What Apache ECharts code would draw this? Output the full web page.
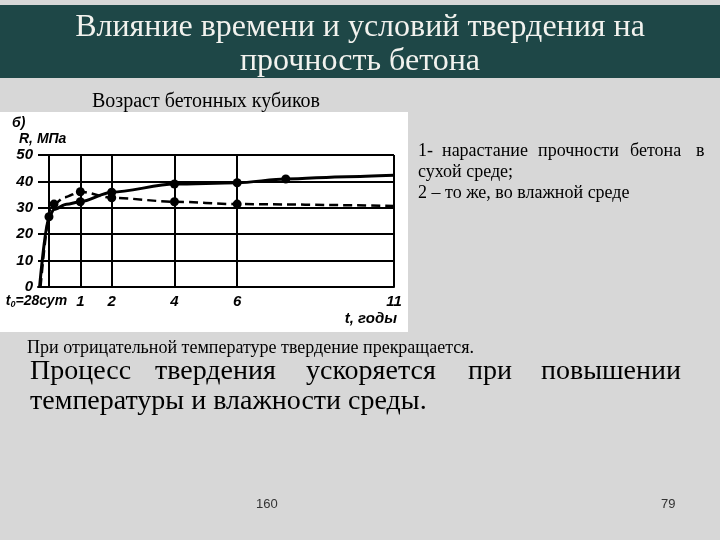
<!DOCTYPE html>
<html>
<head>
<meta charset="utf-8">
<script src="https://cdn.jsdelivr.net/npm/echarts@6/dist/echarts.min.js"></script>
<style>
html,body{margin:0;padding:0;background:#d7d7d7;}
#chart{width:720px;height:540px;}
</style>
</head>
<body>
<div id="chart"></div>
<script>
// ---- data ----
const tickYears = [0, 1, 2, 4, 6, 11];
const tickLabels = ['t0=28сут', '1', '2', '4', '6', '11'];

// curve 1: dry environment (solid)
const dryT = [-0.3, 0, 0.16, 0.56, 1, 2, 4, 6, 7.55, 9.5, 11];
const dryR = [0, 26.6, 29.4, 31.3, 32.3, 35.9, 39.0, 39.5, 40.9, 41.8, 42.3];
const dryMarked = [0, 1, 0, 0, 1, 1, 1, 1, 1, 0, 0];

// curve 2: humid environment (dashed)
const wetT = [-0.27, 0.05, 0.16, 0.5, 1, 2, 4, 6, 11];
const wetR = [0, 29.5, 31.4, 34.0, 36.1, 33.8, 32.3, 31.4, 30.7];
const wetMarked = [0, 0, 1, 0, 1, 1, 1, 1, 0];

const titleLines = ['Влияние времени и условий твердения на', 'прочность бетона'];
const subTitle = 'Возраст бетонных кубиков';
const legendLine1 = ['1-', 'нарастание', 'прочности', 'бетона', 'в'];
const legendLine2 = 'сухой среде;';
const legendLine3 = '2 – то же, во влажной среде';
const noteSmall = 'При отрицательной температуре твердение прекращается.';
const noteBig1 = ['Процесс', 'твердения', 'ускоряется', 'при', 'повышении'];
const noteBig2 = 'температуры и влажности среды.';
const pageLeft = '160';
const pageRight = '79';

// ---- build ----
function pts(ts, rs, marks) {
  return ts.map((t, i) => ({
    value: [t, rs[i]],
    symbol: marks[i] ? 'circle' : 'none'
  }));
}
const handFont = '"Liberation Sans", "DejaVu Sans", sans-serif';
const serif = '"Liberation Serif", "DejaVu Serif", serif';

function txt(text, x, y, font, opts) {
  return {
    type: 'text',
    style: Object.assign({
      text: text, x: x, y: y, font: font, fill: '#000',
      textAlign: 'left', textVerticalAlign: 'middle'
    }, opts || {})
  };
}
function words(list, xs, y, font, fill) {
  return list.map((w, i) => txt(w, xs[i], y, font, {fill: fill || '#000'}));
}

const graphics = [
  {type: 'rect', z: -10, shape: {x: 0, y: 5, width: 720, height: 73}, style: {fill: '#1e4747'}},
  {type: 'rect', z: -10, shape: {x: 0, y: 112, width: 408, height: 220}, style: {fill: '#ffffff'}},
  txt(titleLines[0], 360, 28, '32px ' + serif, {fill: '#f2f2ee', textAlign: 'center'}),
  txt(titleLines[1], 360, 62, '32px ' + serif, {fill: '#f2f2ee', textAlign: 'center'}),
  txt(subTitle, 92, 102, '20px ' + serif),
  txt('б)', 12, 123, 'italic bold 14px ' + handFont),
  txt('R, МПа', 19, 139, 'italic bold 14px ' + handFont),
  txt('t, годы', 397, 319, 'italic bold 15px ' + handFont, {textAlign: 'right'}),
  ...words(legendLine1, [418, 442, 538, 630, 696], 151, '18px ' + serif),
  txt(legendLine2, 418, 172, '18px ' + serif),
  txt(legendLine3, 418, 193, '18px ' + serif),
  txt(noteSmall, 27, 348, '18px ' + serif),
  ...words(noteBig1, [30, 155, 306, 468, 541], 372, '28px ' + serif),
  txt(noteBig2, 30, 402, '28px ' + serif),
  txt(pageLeft, 256, 504, '13px "Liberation Sans", Arial, sans-serif', {fill: '#333'}),
  txt(pageRight, 661, 504, '13px "Liberation Sans", Arial, sans-serif', {fill: '#333'})
];

const labelRich = {
  a: {fontFamily: handFont, fontStyle: 'italic', fontWeight: 'bold', fontSize: 15, color: '#000', lineHeight: 15},
  b: {fontFamily: handFont, fontStyle: 'italic', fontWeight: 'bold', fontSize: 14, color: '#000', lineHeight: 15},
  s: {fontFamily: handFont, fontStyle: 'italic', fontWeight: 'bold', fontSize: 9, color: '#000', lineHeight: 15, verticalAlign: 'bottom'},
  sp: {width: 25, lineHeight: 15}
};
function xLabel(v) {
  const i = tickYears.indexOf(v);
  const s = i >= 0 ? tickLabels[i] : '';
  if (s.indexOf('t0') === 0) {
    return '{b|t}{s|0}{b|' + s.slice(2) + '}{sp| }';
  }
  return '{a|' + s + '}';
}
const xBase = {
  type: 'value', min: -0.35, max: 11, position: 'bottom',
  axisTick: {show: false},
  splitLine: {show: false}
};

const chart = echarts.init(document.getElementById('chart'), null, {renderer: 'canvas'});
chart.setOption({
  backgroundColor: '#d7d7d7',
  animation: false,
  graphic: {elements: graphics},
  grid: {left: 38, top: 155, width: 356, height: 132, containLabel: false},
  xAxis: [
    Object.assign({}, xBase, {
      axisLine: {show: true, lineStyle: {color: '#000', width: 2}},
      axisLabel: {
        show: true, hideOverlap: false, showMinLabel: true, showMaxLabel: true,
        customValues: tickYears.slice(1), margin: 7,
        formatter: xLabel, rich: labelRich
      }
    }),
    Object.assign({}, xBase, {
      axisLine: {show: false},
      axisLabel: {
        show: true, hideOverlap: false, showMinLabel: true, showMaxLabel: true,
        customValues: tickYears.slice(0, 1), margin: 7,
        formatter: xLabel, rich: labelRich
      }
    })
  ],
  yAxis: {
    type: 'value', min: 0, max: 50, interval: 10,
    axisLine: {show: true, lineStyle: {color: '#000', width: 2}},
    axisTick: {show: false},
    splitLine: {show: true, lineStyle: {color: '#000', width: 2}},
    axisLabel: {
      margin: 5, hideOverlap: false, showMinLabel: true, showMaxLabel: true,
      color: '#000', fontFamily: handFont, fontStyle: 'italic', fontWeight: 'bold', fontSize: 15
    }
  },
  series: [
    {
      name: '1', type: 'line', smooth: 0.3, smoothMonotone: 'x',
      xAxisIndex: 0,
      data: pts(dryT, dryR, dryMarked),
      symbolSize: 9,
      itemStyle: {color: '#000'},
      lineStyle: {color: '#000', width: 3},
      z: 3,
      markLine: {
        silent: true, symbol: 'none', label: {show: false},
        lineStyle: {color: '#000', width: 2, type: 'solid'},
        data: tickYears.map(v => ({xAxis: v}))
      }
    },
    {
      name: '2', type: 'line', smooth: 0.3, smoothMonotone: 'x',
      xAxisIndex: 0,
      data: pts(wetT, wetR, wetMarked),
      symbolSize: 9,
      itemStyle: {color: '#000'},
      lineStyle: {color: '#000', width: 2.5, type: [9, 5]},
      z: 3
    }
  ]
});
</script>
</body>
</html>
